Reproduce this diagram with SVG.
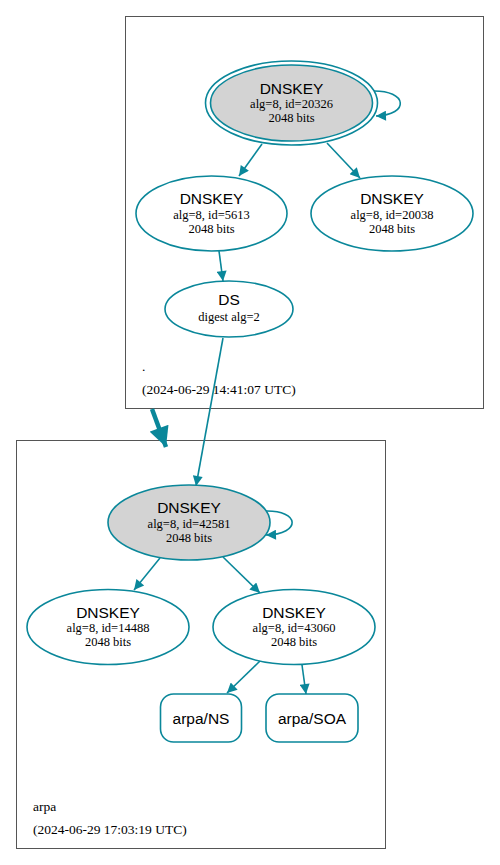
<svg xmlns="http://www.w3.org/2000/svg" width="500" height="865" viewBox="0 0 500 865">
<defs>
<marker id="ah" viewBox="0 0 10 10" refX="10" refY="5" markerWidth="12" markerHeight="10" markerUnits="userSpaceOnUse" orient="auto"><path d="M0,0 L10,5 L0,10 z" fill="#0a879a"/></marker>
<marker id="ahb" viewBox="0 0 10 10" refX="10" refY="5" markerWidth="22" markerHeight="20" markerUnits="userSpaceOnUse" orient="auto"><path d="M0,0 L10,5 L0,10 z" fill="#0a879a"/></marker>
</defs>
<style>
.cl{fill:none;stroke:#555;stroke-width:1}
.n{fill:#fff;stroke:#0a879a;stroke-width:1.6}
.k{fill:#d3d3d3;stroke:#0a879a;stroke-width:1.6}
.e{fill:none;stroke:#0a879a;stroke-width:1.6}
.t1{font-family:"Liberation Sans",Arial,sans-serif;font-size:15.5px;fill:#000;text-anchor:middle}
.t2{font-family:"Liberation Serif","Times New Roman",serif;font-size:12.5px;fill:#000;text-anchor:middle}
.lb{font-family:"Liberation Serif","Times New Roman",serif;font-size:13.5px;fill:#000}
</style>
<rect width="500" height="865" fill="#fff"/>
<g id="cluster-root">
<rect class="cl" x="125.5" y="16.5" width="358" height="392"/>
<text class="lb" x="142" y="371">.</text>
<text class="lb" x="142" y="394">(2024-06-29 14:41:07 UTC)</text>
</g>
<g id="cluster-arpa">
<rect class="cl" x="16.5" y="440.5" width="369" height="408"/>
<text class="lb" x="33" y="811">arpa</text>
<text class="lb" x="33" y="834">(2024-06-29 17:03:19 UTC)</text>
</g>
<g id="connectors">
<path class="e" d="M372,91 C408,90 410,115 376,116" marker-end="url(#ah)"/>
<path class="e" d="M262,144 L239,176" marker-end="url(#ah)"/>
<path class="e" d="M327,143 L360,178" marker-end="url(#ah)"/>
<path class="e" d="M219,251 L223,281" marker-end="url(#ah)"/>
<path class="e" d="M223,338 L196,486" marker-end="url(#ah)"/>
<path d="M152,409 L166,447" fill="none" stroke="#0a879a" stroke-width="4.5" marker-end="url(#ahb)"/>
<path class="e" d="M265,511 C300,510 302,534 266,535" marker-end="url(#ah)"/>
<path class="e" d="M160,558 L134,590" marker-end="url(#ah)"/>
<path class="e" d="M223,557 L260,593" marker-end="url(#ah)"/>
<path class="e" d="M260,661 L227,693" marker-end="url(#ah)"/>
<path class="e" d="M302,665 L306,694" marker-end="url(#ah)"/>
</g>
<g id="root-ksk-20326">
<ellipse class="n" cx="291.5" cy="103" rx="86" ry="42"/>
<ellipse class="k" cx="291.5" cy="103" rx="81" ry="38"/>
<text class="t1" x="291.5" y="93.5">DNSKEY</text>
<text class="t2" x="291.5" y="108">alg=8, id=20326</text>
<text class="t2" x="291.5" y="122">2048 bits</text>
</g>
<g id="root-zsk-5613">
<ellipse class="n" cx="211.5" cy="213.5" rx="75.5" ry="37.5"/>
<text class="t1" x="211.5" y="204">DNSKEY</text>
<text class="t2" x="211.5" y="218.5">alg=8, id=5613</text>
<text class="t2" x="211.5" y="232.5">2048 bits</text>
</g>
<g id="root-zsk-20038">
<ellipse class="n" cx="392" cy="213.5" rx="81" ry="37.5"/>
<text class="t1" x="392" y="204">DNSKEY</text>
<text class="t2" x="392" y="218.5">alg=8, id=20038</text>
<text class="t2" x="392" y="232.5">2048 bits</text>
</g>
<g id="arpa-ds">
<ellipse class="n" cx="229" cy="309" rx="64" ry="28"/>
<text class="t1" x="229" y="305">DS</text>
<text class="t2" x="229" y="321">digest alg=2</text>
</g>
<g id="arpa-ksk-42581">
<ellipse class="k" cx="189" cy="522.5" rx="81" ry="37.5"/>
<text class="t1" x="189" y="513">DNSKEY</text>
<text class="t2" x="189" y="527.5">alg=8, id=42581</text>
<text class="t2" x="189" y="541.5">2048 bits</text>
</g>
<g id="arpa-zsk-14488">
<ellipse class="n" cx="108" cy="627" rx="81" ry="37.5"/>
<text class="t1" x="108" y="617.5">DNSKEY</text>
<text class="t2" x="108" y="632">alg=8, id=14488</text>
<text class="t2" x="108" y="646">2048 bits</text>
</g>
<g id="arpa-zsk-43060">
<ellipse class="n" cx="294" cy="627" rx="81" ry="37.5"/>
<text class="t1" x="294" y="617.5">DNSKEY</text>
<text class="t2" x="294" y="632">alg=8, id=43060</text>
<text class="t2" x="294" y="646">2048 bits</text>
</g>
<g id="arpa-ns">
<rect class="n" x="160.5" y="694" width="81" height="48" rx="13"/>
<text class="t1" x="201" y="724">arpa/NS</text>
</g>
<g id="arpa-soa">
<rect class="n" x="266" y="694" width="92" height="48" rx="13"/>
<text class="t1" x="312" y="724">arpa/SOA</text>
</g>
</svg>
